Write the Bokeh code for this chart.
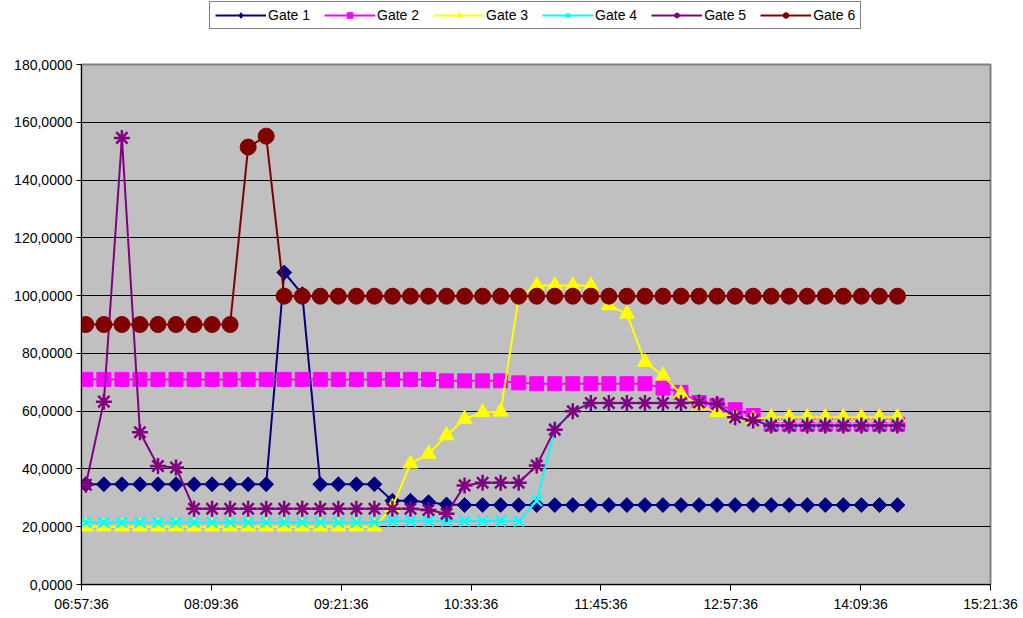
from bokeh.plotting import figure
from bokeh.models import (Legend, LegendItem, FixedTicker, CustomJSTickFormatter, Range1d)
from bokeh.layouts import column
from bokeh.embed import file_html
from bokeh.resources import INLINE
import math

# ---- data ----
times = ["07:00", "07:10", "07:20", "07:30", "07:40", "07:50", "08:00", "08:10", "08:20", "08:30",
         "08:40", "08:50", "09:00", "09:10", "09:20", "09:30", "09:40", "09:50", "10:00", "10:10",
         "10:20", "10:30", "10:40", "10:50", "11:00", "11:10", "11:20", "11:30", "11:40", "11:50",
         "12:00", "12:10", "12:20", "12:30", "12:40", "12:50", "13:00", "13:10", "13:20", "13:30",
         "13:40", "13:50", "14:00", "14:10", "14:20", "14:30"]

gate1 = [34.7, 34.7, 34.7, 34.7, 34.7, 34.7, 34.7, 34.7, 34.7, 34.7,
         34.7, 108.0, 100.5, 34.7, 34.7, 34.7, 34.7, 29.0, 29.0, 28.5,
         27.7, 27.5, 27.5, 27.5, 27.5, 27.5, 27.5, 27.5, 27.5, 27.5,
         27.5, 27.5, 27.5, 27.5, 27.5, 27.5, 27.5, 27.5, 27.5, 27.5,
         27.5, 27.5, 27.5, 27.5, 27.5, 27.5]
gate2 = [71.0, 71.0, 71.0, 71.0, 71.0, 71.0, 71.0, 71.0, 71.0, 71.0,
         71.0, 71.0, 71.0, 71.0, 71.0, 71.0, 71.0, 71.0, 71.0, 71.0,
         70.5, 70.5, 70.5, 70.5, 69.8, 69.5, 69.5, 69.5, 69.5, 69.5,
         69.5, 69.5, 68.0, 66.5, 63.0, 62.0, 60.5, 58.5, 55.5, 55.5,
         55.5, 55.5, 55.5, 55.5, 55.5, 55.5]
gate3 = [20.0, 20.0, 20.0, 20.0, 20.0, 20.0, 20.0, 20.0, 20.0, 20.0,
         20.0, 20.0, 20.0, 20.0, 20.0, 20.0, 20.0, 26.8, 41.8, 45.2,
         51.6, 57.3, 59.6, 59.8, 99.5, 103.5, 103.5, 103.5, 103.5, 96.6,
         93.7, 77.0, 72.3, 66.0, 62.0, 59.6, 57.9, 57.3, 57.9, 57.9,
         57.9, 57.9, 57.9, 57.9, 57.9, 57.9]
gate4 = [21.5, 21.5, 21.5, 21.5, 21.5, 21.5, 21.5, 21.5, 21.5, 21.5,
         21.5, 21.5, 21.5, 21.5, 21.5, 21.5, 21.5, 22.0, 22.0, 22.0,
         22.0, 22.0, 22.0, 22.0, 22.0, 29.0, 54.0, 60.0, 62.8, 62.8,
         62.8, 62.8, 62.8, 62.8, 63.0, 62.5, 58.0, 56.8, 55.5, 55.5,
         55.5, 55.5, 55.5, 55.5, 55.5, 55.5]
gate5 = [34.5, 63.3, 154.6, 52.7, 41.0, 40.5, 26.2, 26.2, 26.2, 26.2,
         26.2, 26.2, 26.2, 26.2, 26.2, 26.2, 26.2, 26.2, 26.2, 25.8,
         24.5, 34.3, 35.2, 35.2, 35.2, 41.2, 53.6, 60.0, 62.8, 62.8,
         62.8, 62.8, 62.8, 62.8, 63.0, 62.5, 57.9, 56.8, 55.0, 55.0,
         55.0, 55.0, 55.0, 55.0, 55.0, 55.0]
gate6 = [90.0, 90.0, 90.0, 90.0, 90.0, 90.0, 90.0, 90.0, 90.0, 151.4,
         155.2, 99.8, 99.8, 99.8, 99.8, 99.8, 99.8, 99.8, 99.8, 99.8,
         99.8, 99.8, 99.8, 99.8, 99.8, 99.8, 99.8, 99.8, 99.8, 99.8,
         99.8, 99.8, 99.8, 99.8, 99.8, 99.8, 99.8, 99.8, 99.8, 99.8,
         99.8, 99.8, 99.8, 99.8, 99.8, 99.8]

series_names = ["Gate 1", "Gate 2", "Gate 3", "Gate 4", "Gate 5", "Gate 6"]
x_tick_labels = ["06:57:36", "08:09:36", "09:21:36", "10:33:36", "11:45:36", "12:57:36", "14:09:36", "15:21:36"]
y_ticks = [0, 20, 40, 60, 80, 100, 120, 140, 160, 180]


def to_min(s):
    parts = [int(v) for v in s.split(":")]
    while len(parts) < 3:
        parts.append(0)
    return parts[0] * 60 + parts[1] + parts[2] / 60.0


x = [to_min(t) for t in times]
x_ticks = [to_min(t) for t in x_tick_labels]

FONT = "Liberation Sans"
W = 1023
LEG_H = 54      # height of the legend strip
PAD_TOP = 10    # space above the plot frame inside the main figure

p = figure(width=W, height=618 - LEG_H, output_backend="svg", toolbar_location=None, tools="",
           x_range=Range1d(x_ticks[0], x_ticks[-1]), y_range=Range1d(0, 180),
           min_border_left=81, min_border_right=33, min_border_top=PAD_TOP, min_border_bottom=34)
p.background_fill_color = "#C0C0C0"
p.border_fill_color = "white"
p.outline_line_color = "#808080"
p.outline_line_width = 2

p.xgrid.grid_line_color = None
p.ygrid.grid_line_color = "black"
p.ygrid.grid_line_width = 1

p.xaxis.ticker = FixedTicker(ticks=x_ticks)
p.yaxis.ticker = FixedTicker(ticks=y_ticks)
p.xaxis.formatter = CustomJSTickFormatter(code="""
const s = Math.round(tick*60);
const h = Math.floor(s/3600), m = Math.floor((s%3600)/60), sec = s%60;
const pd = v => (v<10?'0':'')+v;
return pd(h)+':'+pd(m)+':'+pd(sec);
""")
p.yaxis.formatter = CustomJSTickFormatter(code="return tick.toFixed(4).replace('.', ',');")

for ax in (p.xaxis, p.yaxis):
    ax.axis_line_color = "black"
    ax.axis_line_width = 1
    ax.major_tick_line_color = "black"
    ax.major_tick_in = 0
    ax.minor_tick_line_color = None
    ax.major_label_text_font = FONT
    ax.major_label_text_font_size = "14px"
    ax.major_label_text_color = "black"
p.xaxis.major_tick_out = 6
p.yaxis.major_tick_out = 5
p.xaxis.major_label_standoff = 5
p.yaxis.major_label_standoff = 4

styles = [
    dict(color="#000080", marker="square", size=10.5, angle=math.pi / 4, legend_marker="diamond"),
    dict(color="#FF00FF", marker="square", size=14, angle=0, legend_marker="square"),
    dict(color="#FFFF00", marker="triangle", size=15, angle=0, legend_marker="triangle"),
    dict(color="#00FFFF", marker="x", size=15, angle=0, legend_marker="x"),
    dict(color="#800080", marker="asterisk", size=16, angle=0, legend_marker="asterisk"),
    dict(color="#800000", marker="circle", size=16, angle=0, legend_marker="circle"),
]
data = [gate1, gate2, gate3, gate4, gate5, gate6]


def draw(fig, xs, ys, st, marker, angle):
    ln = fig.line(xs, ys, line_color=st["color"], line_width=2)
    if marker in ("x", "asterisk"):
        sc = fig.scatter(xs, ys, marker=marker, size=st["size"], line_color=st["color"],
                         line_width=2.5, fill_color=None)
    else:
        sc = fig.scatter(xs, ys, marker=marker, size=st["size"], angle=angle,
                         fill_color=st["color"], line_color=st["color"], line_width=1)
    return ln, sc


for ys, st in zip(data, styles):
    draw(p, x, ys, st, st["marker"], st["angle"])

# legend strip above the chart (its own small figure, so the legend is not clipped)
lf = figure(width=W, height=LEG_H, output_backend="svg", toolbar_location=None, tools="",
            x_range=Range1d(0, 1), y_range=Range1d(0, 1), x_axis_type=None, y_axis_type=None,
            min_border=0)
lf.outline_line_color = None
lf.background_fill_color = "white"
lf.border_fill_color = "white"
lf.grid.grid_line_color = None

items = []
for name, st in zip(series_names, styles):
    # one off-range point per series: only its legend swatch is visible
    ln, sc = draw(lf, [-10], [-10], st, st["legend_marker"], 0)
    items.append(LegendItem(label=name, renderers=[ln, sc]))

legend = Legend(items=items, orientation="horizontal", location=(209 - 81, LEG_H - 29),
                label_text_font=FONT, label_text_font_size="14px", label_text_color="black",
                glyph_width=51, glyph_height=14, label_standoff=2, spacing=14, padding=5,
                margin=0, label_height=14,
                border_line_color="black", border_line_width=1,
                background_fill_color="white", background_fill_alpha=1.0)
lf.add_layout(legend, "center")

layout = column(lf, p, spacing=0)
open("out.html", "w").write(file_html(layout, INLINE))
